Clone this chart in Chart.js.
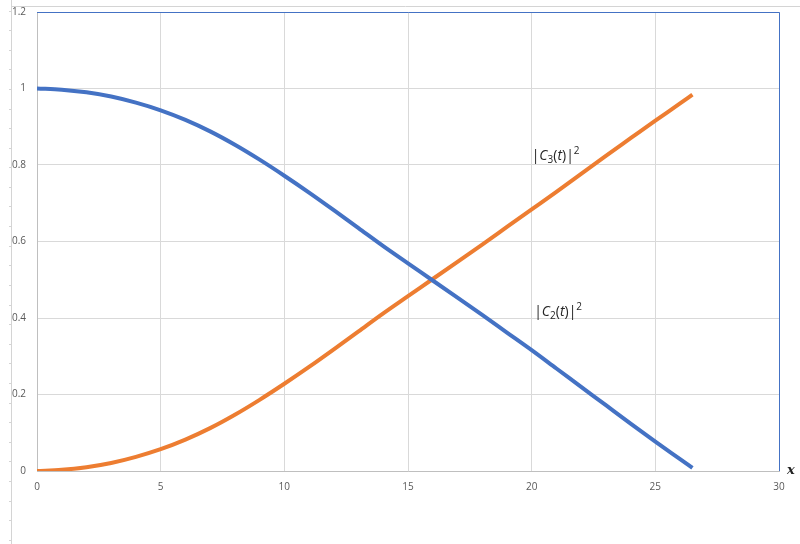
<!DOCTYPE html>
<html>
<head>
<meta charset="utf-8">
<script src="https://cdn.jsdelivr.net/npm/chart.js@4/dist/chart.umd.min.js"></script>
<style>
  html, body { margin: 0; padding: 0; background: #fff; }
  canvas { display: block; }
</style>
</head>
<body>
<canvas id="chart" width="800" height="544"></canvas>
<script>
// values
const X_VALUES = [0, 1, 2, 3, 4, 5, 6, 7, 8, 9, 10, 11, 12, 13, 14, 15, 16, 17, 18, 19, 20, 21, 22, 23, 24, 25, 26, 26.5];
const C2_VALUES = [1.000, 0.997, 0.990, 0.979, 0.963, 0.943, 0.918, 0.888, 0.853, 0.814, 0.772, 0.728, 0.682, 0.635,
  0.588, 0.543, 0.498, 0.453, 0.408, 0.362, 0.316, 0.268, 0.220, 0.172, 0.124, 0.077, 0.031, 0.008];
const C3_VALUES = [0.000, 0.003, 0.010, 0.021, 0.037, 0.057, 0.082, 0.112, 0.147, 0.186, 0.228, 0.272, 0.318, 0.365,
  0.412, 0.457, 0.502, 0.547, 0.592, 0.638, 0.684, 0.730, 0.777, 0.824, 0.870, 0.916, 0.961, 0.984];
const X_TICKS = [0, 5, 10, 15, 20, 25, 30];
const Y_TICKS = [0, 0.2, 0.4, 0.6, 0.8, 1, 1.2];

// curve labels: [anchor x, anchor y, subscript]
const LABELS = [
  [20.0, 0.812, '3'],
  [20.1, 0.404, '2']
];

const BLUE = '#4472C4';
const ORANGE = '#ED7D31';
const TICK_FONT = { family: 'Open Sans', size: 10 };

const toPoints = ys => X_VALUES.map((x, i) => ({ x, y: ys[i] }));

// frame bits around the chart + blue plot outline + curve labels
const decorations = {
  id: 'decorations',
  beforeDraw(chart) {
    const ctx = chart.ctx;
    ctx.save();
    ctx.strokeStyle = '#d4d4d4';
    ctx.lineWidth = 1;
    ctx.beginPath();
    ctx.moveTo(11.5, 0);
    ctx.lineTo(11.5, chart.height);
    ctx.moveTo(11, 6.5);
    ctx.lineTo(chart.width, 6.5);
    for (let y = 10.5; y < chart.height; y += 19.6) {
      ctx.moveTo(9, Math.round(y) + 0.5);
      ctx.lineTo(12, Math.round(y) + 0.5);
    }
    ctx.stroke();
    ctx.restore();
  },
  afterDraw(chart) {
    const ctx = chart.ctx;
    const { left, right, top, bottom } = chart.chartArea;
    const xs = chart.scales.x, ys = chart.scales.y;

    ctx.save();
    ctx.strokeStyle = BLUE;
    ctx.lineWidth = 1;
    ctx.beginPath();
    ctx.moveTo(left, top + 0.5);
    ctx.lineTo(right + 0.5, top + 0.5);
    ctx.lineTo(right + 0.5, bottom);
    ctx.stroke();

    // axis title
    ctx.fillStyle = '#222';
    ctx.font = 'italic bold 13px "DejaVu Serif"';
    ctx.textBaseline = 'middle';
    ctx.textAlign = 'left';
    ctx.fillText('x', right + 8, bottom);

    // |C_n(t)|^2
    ctx.fillStyle = '#262626';
    ctx.textBaseline = 'alphabetic';
    LABELS.forEach(([lx, ly, sub]) => {
      let px = xs.getPixelForValue(lx);
      const py = ys.getPixelForValue(ly);
      const put = (txt, font, dy = 0) => {
        ctx.font = font;
        ctx.fillText(txt, px, py + dy);
        px += ctx.measureText(txt).width;
      };
      const base = '14px "Open Sans"';
      const ital = 'italic 14px "Open Sans"';
      const small = '10px "Open Sans"';
      put('|', base);
      put('C', ital);
      put(sub, small, 3);
      put('(', base);
      put('t', ital);
      put(')|', base);
      put('2', small, -6);
    });
    ctx.restore();
  }
};

new Chart(document.getElementById('chart'), {
  type: 'line',
  data: {
    datasets: [
      {
        label: '|C2(t)|^2',
        data: toPoints(C2_VALUES),
        borderColor: BLUE,
        borderWidth: 4,
        pointRadius: 0,
        cubicInterpolationMode: 'monotone'
      },
      {
        label: '|C3(t)|^2',
        data: toPoints(C3_VALUES),
        borderColor: ORANGE,
        borderWidth: 4,
        pointRadius: 0,
        cubicInterpolationMode: 'monotone'
      }
    ]
  },
  options: {
    responsive: false,
    animation: false,
    layout: { padding: { left: 0, top: 12, right: 21, bottom: 0 } },
    plugins: {
      legend: { display: false },
      tooltip: { enabled: false }
    },
    scales: {
      x: {
        type: 'linear',
        min: 0,
        max: 30,
        afterBuildTicks: s => { s.ticks = X_TICKS.map(v => ({ value: v })); },
        afterFit: s => { s.height = 73; },
        ticks: { color: '#595959', font: TICK_FONT, padding: 10, maxRotation: 0 },
        grid: { color: '#d9d9d9', drawTicks: false },
        border: { color: '#bfbfbf' }
      },
      y: {
        min: 0,
        max: 1.2,
        afterBuildTicks: s => { s.ticks = Y_TICKS.map(v => ({ value: v })); },
        // tick padding would otherwise push the plot top down
        afterFit: s => { s.width = 37; s.paddingTop = 0; },
        ticks: {
          color: '#595959',
          font: TICK_FONT,
          padding: 11,
          callback: v => String(+v.toFixed(1))
        },
        grid: { color: '#d9d9d9', drawTicks: false },
        border: { color: '#bfbfbf' }
      }
    }
  },
  plugins: [decorations]
});
</script>
</body>
</html>
